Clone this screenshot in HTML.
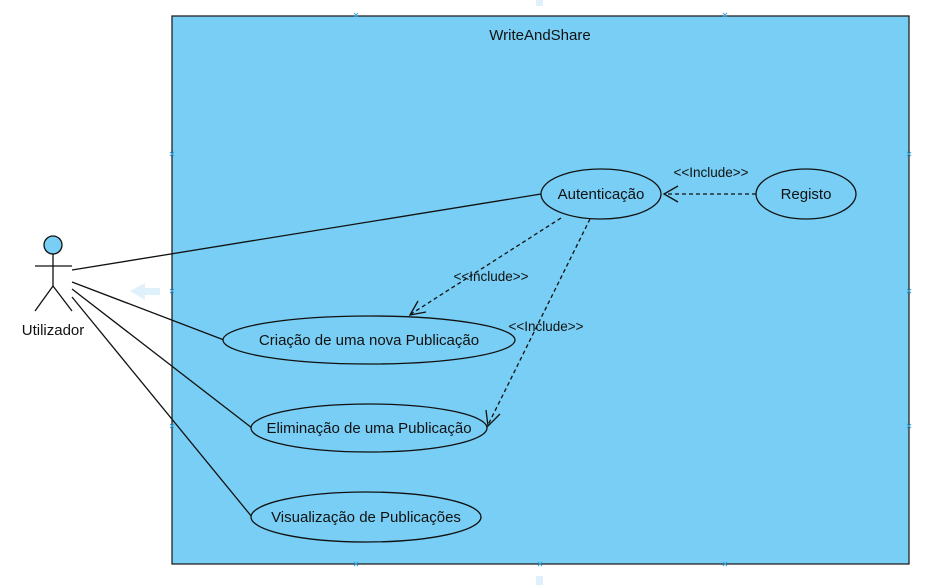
<!DOCTYPE html>
<html><head><meta charset="utf-8"><style>html,body{margin:0;padding:0;background:#fff;width:926px;height:585px;overflow:hidden}</style></head>
<body>
<svg width="926" height="585" viewBox="0 0 926 585" xmlns="http://www.w3.org/2000/svg" font-family="Liberation Sans, sans-serif">
<rect x="536" y="0" width="7" height="6" fill="#dff1fb"/>
<rect x="536" y="576" width="7" height="9" fill="#dff1fb"/>
<polygon points="130,291 145,283 145,288 160,288 160,295 145,295 145,300" fill="#dff1fb"/>
<rect x="172" y="16" width="737" height="548" fill="#78cef4" stroke="#222" stroke-width="1.3"/>
<text x="540" y="40" font-size="15" text-anchor="middle" fill="#111">WriteAndShare</text>
<g stroke="#111" stroke-width="1.3" fill="none">
<line x1="72" y1="270" x2="541" y2="194"/>
<line x1="72" y1="282" x2="224" y2="340"/>
<line x1="72" y1="289" x2="252" y2="428"/>
<line x1="72" y1="297" x2="252" y2="517"/>
<circle cx="53" cy="245" r="9" fill="#78cef4"/>
<line x1="53" y1="254" x2="53" y2="286"/>
<line x1="35" y1="266" x2="72" y2="266"/>
<line x1="53" y1="286" x2="35" y2="311"/>
<line x1="53" y1="286" x2="72" y2="311"/>
<g stroke-dasharray="4,3">
<line x1="756" y1="194" x2="664" y2="194"/>
<line x1="561" y1="218" x2="411" y2="314"/>
<line x1="590" y1="219" x2="488" y2="425"/>
</g>
<polyline points="678,186 664,194 678,202"/>
<polyline points="418,301 410,315 426,312"/>
<polyline points="486,410 488,426 500,414"/>
<ellipse cx="601" cy="194" rx="60" ry="25" fill="#78cef4"/>
<ellipse cx="806" cy="194" rx="50" ry="25" fill="#78cef4"/>
<ellipse cx="369" cy="340" rx="146" ry="24" fill="#78cef4"/>
<ellipse cx="369" cy="428" rx="118" ry="24" fill="#78cef4"/>
<ellipse cx="366" cy="517" rx="115" ry="25" fill="#78cef4"/>
</g>
<g font-size="15" fill="#111" text-anchor="middle">
<text x="601" y="199">Autenticação</text>
<text x="806" y="199">Registo</text>
<text x="369" y="345">Criação de uma nova Publicação</text>
<text x="369" y="433">Eliminação de uma Publicação</text>
<text x="366" y="522">Visualização de Publicações</text>
<text x="53" y="335">Utilizador</text>
</g>
<g font-size="13.5" fill="#111" text-anchor="middle">
<text x="711" y="177">&lt;&lt;Include&gt;&gt;</text>
<text x="491" y="281">&lt;&lt;Include&gt;&gt;</text>
<text x="546" y="331">&lt;&lt;Include&gt;&gt;</text>
</g>
<g stroke="#3aa6e0" stroke-width="1" font-size="0">
<path d="M354,13l4,4M358,13l-4,4M723,13l4,4M727,13l-4,4M354,562l4,4M358,562l-4,4M723,562l4,4M727,562l-4,4M170,152l4,4M174,152l-4,4M170,289l4,4M174,289l-4,4M170,424l4,4M174,424l-4,4M907,152l4,4M911,152l-4,4M907,289l4,4M911,289l-4,4M907,424l4,4M911,424l-4,4M538,562l4,4M542,562l-4,4"/>
</g>
</svg>
</body></html>
